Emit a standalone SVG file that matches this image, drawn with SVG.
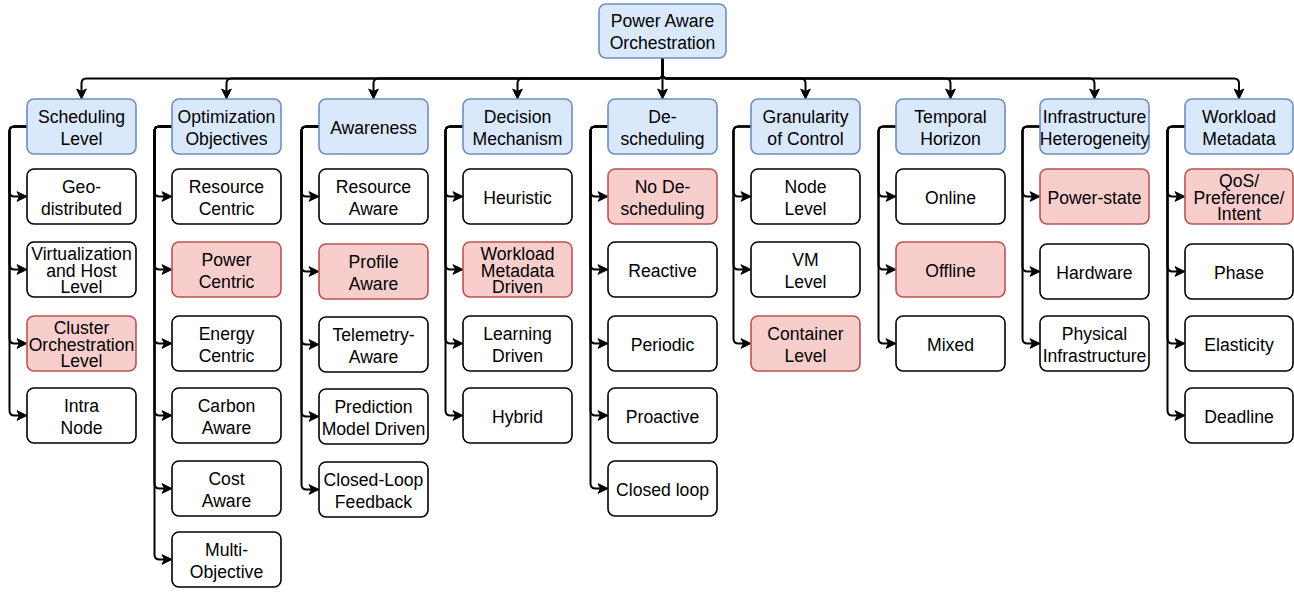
<svg xmlns="http://www.w3.org/2000/svg" width="1294" height="592" viewBox="0 0 1294 592">
<style>
rect{stroke-width:1.6}
.b{fill:#dae8fc;stroke:#6c8ebf}
.r{fill:#f8cecc;stroke:#b85450}
.w{fill:#ffffff;stroke:#000000}
text{font-family:"Liberation Sans",Arial,Helvetica,sans-serif;font-size:17.6px;fill:#000;text-anchor:middle}
.e{fill:none;stroke:#000;stroke-width:2;marker-end:url(#ah)}
</style>
<defs>
<marker id="ah" markerUnits="userSpaceOnUse" orient="auto" refX="0" refY="0" markerWidth="20" markerHeight="20" overflow="visible">
<path d="M7,0 L-3,-4.8 L-0.5,0 L-3,4.8 Z" fill="#000" stroke="#000" stroke-width="1"/>
</marker>
</defs>
<rect width="1294" height="592" fill="#fff" stroke="none"/>
<g id="connectors">
<path class="e" d="M662.5,58 V73.5 Q662.5,78.5 657.5,78.5 H86.5 Q81.5,78.5 81.5,83.5 V92"/>
<path class="e" d="M662.5,58 V73.5 Q662.5,78.5 657.5,78.5 H231.5 Q226.5,78.5 226.5,83.5 V92"/>
<path class="e" d="M662.5,58 V73.5 Q662.5,78.5 657.5,78.5 H378.5 Q373.5,78.5 373.5,83.5 V92"/>
<path class="e" d="M662.5,58 V73.5 Q662.5,78.5 657.5,78.5 H522.5 Q517.5,78.5 517.5,83.5 V92"/>
<path class="e" d="M662.5,58 V92"/>
<path class="e" d="M662.5,58 V73.5 Q662.5,78.5 667.5,78.5 H800.5 Q805.5,78.5 805.5,83.5 V92"/>
<path class="e" d="M662.5,58 V73.5 Q662.5,78.5 667.5,78.5 H945.5 Q950.5,78.5 950.5,83.5 V92"/>
<path class="e" d="M662.5,58 V73.5 Q662.5,78.5 667.5,78.5 H1089.5 Q1094.5,78.5 1094.5,83.5 V92"/>
<path class="e" d="M662.5,58 V73.5 Q662.5,78.5 667.5,78.5 H1234 Q1239,78.5 1239,83.5 V92"/>

<path class="e" d="M27,126.5 H14.5 Q9.5,126.5 9.5,131.5 V191.5 Q9.5,196.5 14.5,196.5 H20"/>
<path class="e" d="M27,126.5 H14.5 Q9.5,126.5 9.5,131.5 V264.5 Q9.5,269.5 14.5,269.5 H20"/>
<path class="e" d="M27,126.5 H14.5 Q9.5,126.5 9.5,131.5 V338.5 Q9.5,343.5 14.5,343.5 H20"/>
<path class="e" d="M27,126.5 H14.5 Q9.5,126.5 9.5,131.5 V410.5 Q9.5,415.5 14.5,415.5 H20"/>

<path class="e" d="M172,126.5 H159.5 Q154.5,126.5 154.5,131.5 V191.5 Q154.5,196.5 159.5,196.5 H165"/>
<path class="e" d="M172,126.5 H159.5 Q154.5,126.5 154.5,131.5 V264.5 Q154.5,269.5 159.5,269.5 H165"/>
<path class="e" d="M172,126.5 H159.5 Q154.5,126.5 154.5,131.5 V338.5 Q154.5,343.5 159.5,343.5 H165"/>
<path class="e" d="M172,126.5 H159.5 Q154.5,126.5 154.5,131.5 V410.5 Q154.5,415.5 159.5,415.5 H165"/>
<path class="e" d="M172,126.5 H159.5 Q154.5,126.5 154.5,131.5 V483.5 Q154.5,488.5 159.5,488.5 H165"/>
<path class="e" d="M172,126.5 H159.5 Q154.5,126.5 154.5,131.5 V554.5 Q154.5,559.5 159.5,559.5 H165"/>

<path class="e" d="M319,126.5 H306.5 Q301.5,126.5 301.5,131.5 V191.5 Q301.5,196.5 306.5,196.5 H312"/>
<path class="e" d="M319,126.5 H306.5 Q301.5,126.5 301.5,131.5 V266.5 Q301.5,271.5 306.5,271.5 H312"/>
<path class="e" d="M319,126.5 H306.5 Q301.5,126.5 301.5,131.5 V339.5 Q301.5,344.5 306.5,344.5 H312"/>
<path class="e" d="M319,126.5 H306.5 Q301.5,126.5 301.5,131.5 V411.5 Q301.5,416.5 306.5,416.5 H312"/>
<path class="e" d="M319,126.5 H306.5 Q301.5,126.5 301.5,131.5 V484.5 Q301.5,489.5 306.5,489.5 H312"/>

<path class="e" d="M463,126.5 H450.5 Q445.5,126.5 445.5,131.5 V191.5 Q445.5,196.5 450.5,196.5 H456"/>
<path class="e" d="M463,126.5 H450.5 Q445.5,126.5 445.5,131.5 V264.5 Q445.5,269.5 450.5,269.5 H456"/>
<path class="e" d="M463,126.5 H450.5 Q445.5,126.5 445.5,131.5 V338.5 Q445.5,343.5 450.5,343.5 H456"/>
<path class="e" d="M463,126.5 H450.5 Q445.5,126.5 445.5,131.5 V410.5 Q445.5,415.5 450.5,415.5 H456"/>

<path class="e" d="M608,126.5 H595.5 Q590.5,126.5 590.5,131.5 V191.5 Q590.5,196.5 595.5,196.5 H601"/>
<path class="e" d="M608,126.5 H595.5 Q590.5,126.5 590.5,131.5 V264.5 Q590.5,269.5 595.5,269.5 H601"/>
<path class="e" d="M608,126.5 H595.5 Q590.5,126.5 590.5,131.5 V338.5 Q590.5,343.5 595.5,343.5 H601"/>
<path class="e" d="M608,126.5 H595.5 Q590.5,126.5 590.5,131.5 V410.5 Q590.5,415.5 595.5,415.5 H601"/>
<path class="e" d="M608,126.5 H595.5 Q590.5,126.5 590.5,131.5 V483.5 Q590.5,488.5 595.5,488.5 H601"/>

<path class="e" d="M751,126.5 H738.5 Q733.5,126.5 733.5,131.5 V191.5 Q733.5,196.5 738.5,196.5 H744"/>
<path class="e" d="M751,126.5 H738.5 Q733.5,126.5 733.5,131.5 V264.5 Q733.5,269.5 738.5,269.5 H744"/>
<path class="e" d="M751,126.5 H738.5 Q733.5,126.5 733.5,131.5 V338.5 Q733.5,343.5 738.5,343.5 H744"/>

<path class="e" d="M896,126.5 H883.5 Q878.5,126.5 878.5,131.5 V191.5 Q878.5,196.5 883.5,196.5 H889"/>
<path class="e" d="M896,126.5 H883.5 Q878.5,126.5 878.5,131.5 V264.5 Q878.5,269.5 883.5,269.5 H889"/>
<path class="e" d="M896,126.5 H883.5 Q878.5,126.5 878.5,131.5 V338.5 Q878.5,343.5 883.5,343.5 H889"/>

<path class="e" d="M1040,126.5 H1027.5 Q1022.5,126.5 1022.5,131.5 V191.5 Q1022.5,196.5 1027.5,196.5 H1033"/>
<path class="e" d="M1040,126.5 H1027.5 Q1022.5,126.5 1022.5,131.5 V266.5 Q1022.5,271.5 1027.5,271.5 H1033"/>
<path class="e" d="M1040,126.5 H1027.5 Q1022.5,126.5 1022.5,131.5 V338.5 Q1022.5,343.5 1027.5,343.5 H1033"/>

<path class="e" d="M1185,126.5 H1172.5 Q1167.5,126.5 1167.5,131.5 V191.5 Q1167.5,196.5 1172.5,196.5 H1178"/>
<path class="e" d="M1185,126.5 H1172.5 Q1167.5,126.5 1167.5,131.5 V266.5 Q1167.5,271.5 1172.5,271.5 H1178"/>
<path class="e" d="M1185,126.5 H1172.5 Q1167.5,126.5 1167.5,131.5 V338.5 Q1167.5,343.5 1172.5,343.5 H1178"/>
<path class="e" d="M1185,126.5 H1172.5 Q1167.5,126.5 1167.5,131.5 V410.5 Q1167.5,415.5 1172.5,415.5 H1178"/>
</g>

<g id="root"><rect class="b" x="599" y="4" width="127" height="54" rx="7"/><text x="662.5" y="27">Power Aware</text><text x="662.5" y="49">Orchestration</text></g>

<g id="scheduling-level"><rect class="b" x="27" y="99" width="109" height="55" rx="7"/><text x="81.5" y="122.5">Scheduling</text><text x="81.5" y="144.5">Level</text></g>
<g id="geo-distributed"><rect class="w" x="27" y="169" width="109" height="55" rx="7"/><text x="81.5" y="192.5">Geo-</text><text x="81.5" y="214.5">distributed</text></g>
<g id="virtualization-host"><rect class="w" x="27" y="242" width="109" height="55" rx="7"/><text x="81.5" y="259.8">Virtualization</text><text x="81.5" y="276.5">and Host</text><text x="81.5" y="293.2">Level</text></g>
<g id="cluster-orchestration"><rect class="r" x="27" y="316" width="109" height="55" rx="7"/><text x="81.5" y="333.8">Cluster</text><text x="81.5" y="350.5">Orchestration</text><text x="81.5" y="367.2">Level</text></g>
<g id="intra-node"><rect class="w" x="27" y="388" width="109" height="55" rx="7"/><text x="81.5" y="411.5">Intra</text><text x="81.5" y="433.5">Node</text></g>

<g id="optimization-objectives"><rect class="b" x="172" y="99" width="109" height="55" rx="7"/><text x="226.5" y="122.5">Optimization</text><text x="226.5" y="144.5">Objectives</text></g>
<g id="resource-centric"><rect class="w" x="172" y="169" width="109" height="55" rx="7"/><text x="226.5" y="192.5">Resource</text><text x="226.5" y="214.5">Centric</text></g>
<g id="power-centric"><rect class="r" x="172" y="242" width="109" height="55" rx="7"/><text x="226.5" y="265.5">Power</text><text x="226.5" y="287.5">Centric</text></g>
<g id="energy-centric"><rect class="w" x="172" y="316" width="109" height="55" rx="7"/><text x="226.5" y="339.5">Energy</text><text x="226.5" y="361.5">Centric</text></g>
<g id="carbon-aware"><rect class="w" x="172" y="388" width="109" height="55" rx="7"/><text x="226.5" y="411.5">Carbon</text><text x="226.5" y="433.5">Aware</text></g>
<g id="cost-aware"><rect class="w" x="172" y="461" width="109" height="55" rx="7"/><text x="226.5" y="484.5">Cost</text><text x="226.5" y="506.5">Aware</text></g>
<g id="multi-objective"><rect class="w" x="172" y="532" width="109" height="55" rx="7"/><text x="226.5" y="555.5">Multi-</text><text x="226.5" y="577.5">Objective</text></g>

<g id="awareness"><rect class="b" x="319" y="99" width="109" height="55" rx="7"/><text x="373.5" y="133.5">Awareness</text></g>
<g id="resource-aware"><rect class="w" x="319" y="169" width="109" height="55" rx="7"/><text x="373.5" y="192.5">Resource</text><text x="373.5" y="214.5">Aware</text></g>
<g id="profile-aware"><rect class="r" x="319" y="244" width="109" height="55" rx="7"/><text x="373.5" y="267.5">Profile</text><text x="373.5" y="289.5">Aware</text></g>
<g id="telemetry-aware"><rect class="w" x="319" y="317" width="109" height="55" rx="7"/><text x="373.5" y="340.5">Telemetry-</text><text x="373.5" y="362.5">Aware</text></g>
<g id="prediction-model"><rect class="w" x="319" y="389" width="109" height="55" rx="7"/><text x="373.5" y="412.5">Prediction</text><text x="373.5" y="434.5">Model Driven</text></g>
<g id="closed-loop-feedback"><rect class="w" x="319" y="462" width="109" height="55" rx="7"/><text x="373.5" y="485.5">Closed-Loop</text><text x="373.5" y="507.5">Feedback</text></g>

<g id="decision-mechanism"><rect class="b" x="463" y="99" width="109" height="55" rx="7"/><text x="517.5" y="122.5">Decision</text><text x="517.5" y="144.5">Mechanism</text></g>
<g id="heuristic"><rect class="w" x="463" y="169" width="109" height="55" rx="7"/><text x="517.5" y="203.5">Heuristic</text></g>
<g id="workload-metadata-driven"><rect class="r" x="463" y="242" width="109" height="55" rx="7"/><text x="517.5" y="259.8">Workload</text><text x="517.5" y="276.5">Metadata</text><text x="517.5" y="293.2">Driven</text></g>
<g id="learning-driven"><rect class="w" x="463" y="316" width="109" height="55" rx="7"/><text x="517.5" y="339.5">Learning</text><text x="517.5" y="361.5">Driven</text></g>
<g id="hybrid"><rect class="w" x="463" y="388" width="109" height="55" rx="7"/><text x="517.5" y="422.5">Hybrid</text></g>

<g id="de-scheduling"><rect class="b" x="608" y="99" width="109" height="55" rx="7"/><text x="662.5" y="122.5">De-</text><text x="662.5" y="144.5">scheduling</text></g>
<g id="no-de-scheduling"><rect class="r" x="608" y="169" width="109" height="55" rx="7"/><text x="662.5" y="192.5">No De-</text><text x="662.5" y="214.5">scheduling</text></g>
<g id="reactive"><rect class="w" x="608" y="242" width="109" height="55" rx="7"/><text x="662.5" y="276.5">Reactive</text></g>
<g id="periodic"><rect class="w" x="608" y="316" width="109" height="55" rx="7"/><text x="662.5" y="350.5">Periodic</text></g>
<g id="proactive"><rect class="w" x="608" y="388" width="109" height="55" rx="7"/><text x="662.5" y="422.5">Proactive</text></g>
<g id="closed-loop"><rect class="w" x="608" y="461" width="109" height="55" rx="7"/><text x="662.5" y="495.5">Closed loop</text></g>

<g id="granularity-of-control"><rect class="b" x="751" y="99" width="109" height="55" rx="7"/><text x="805.5" y="122.5">Granularity</text><text x="805.5" y="144.5">of Control</text></g>
<g id="node-level"><rect class="w" x="751" y="169" width="109" height="55" rx="7"/><text x="805.5" y="192.5">Node</text><text x="805.5" y="214.5">Level</text></g>
<g id="vm-level"><rect class="w" x="751" y="242" width="109" height="55" rx="7"/><text x="805.5" y="265.5">VM</text><text x="805.5" y="287.5">Level</text></g>
<g id="container-level"><rect class="r" x="751" y="316" width="109" height="55" rx="7"/><text x="805.5" y="339.5">Container</text><text x="805.5" y="361.5">Level</text></g>

<g id="temporal-horizon"><rect class="b" x="896" y="99" width="109" height="55" rx="7"/><text x="950.5" y="122.5">Temporal</text><text x="950.5" y="144.5">Horizon</text></g>
<g id="online"><rect class="w" x="896" y="169" width="109" height="55" rx="7"/><text x="950.5" y="203.5">Online</text></g>
<g id="offline"><rect class="r" x="896" y="242" width="109" height="55" rx="7"/><text x="950.5" y="276.5">Offline</text></g>
<g id="mixed"><rect class="w" x="896" y="316" width="109" height="55" rx="7"/><text x="950.5" y="350.5">Mixed</text></g>

<g id="infrastructure-heterogeneity"><rect class="b" x="1040" y="99" width="109" height="55" rx="7"/><text x="1094.5" y="122.5">Infrastructure</text><text x="1094.5" y="144.5">Heterogeneity</text></g>
<g id="power-state"><rect class="r" x="1040" y="169" width="109" height="55" rx="7"/><text x="1094.5" y="203.5">Power-state</text></g>
<g id="hardware"><rect class="w" x="1040" y="244" width="109" height="55" rx="7"/><text x="1094.5" y="278.5">Hardware</text></g>
<g id="physical-infrastructure"><rect class="w" x="1040" y="316" width="109" height="55" rx="7"/><text x="1094.5" y="339.5">Physical</text><text x="1094.5" y="361.5">Infrastructure</text></g>

<g id="workload-metadata"><rect class="b" x="1185" y="99" width="108" height="55" rx="7"/><text x="1239" y="122.5">Workload</text><text x="1239" y="144.5">Metadata</text></g>
<g id="qos-preference-intent"><rect class="r" x="1185" y="169" width="108" height="55" rx="7"/><text x="1239" y="186.8">QoS/</text><text x="1239" y="203.5">Preference/</text><text x="1239" y="220.2">Intent</text></g>
<g id="phase"><rect class="w" x="1185" y="244" width="108" height="55" rx="7"/><text x="1239" y="278.5">Phase</text></g>
<g id="elasticity"><rect class="w" x="1185" y="316" width="108" height="55" rx="7"/><text x="1239" y="350.5">Elasticity</text></g>
<g id="deadline"><rect class="w" x="1185" y="388" width="108" height="55" rx="7"/><text x="1239" y="422.5">Deadline</text></g>
</svg>
